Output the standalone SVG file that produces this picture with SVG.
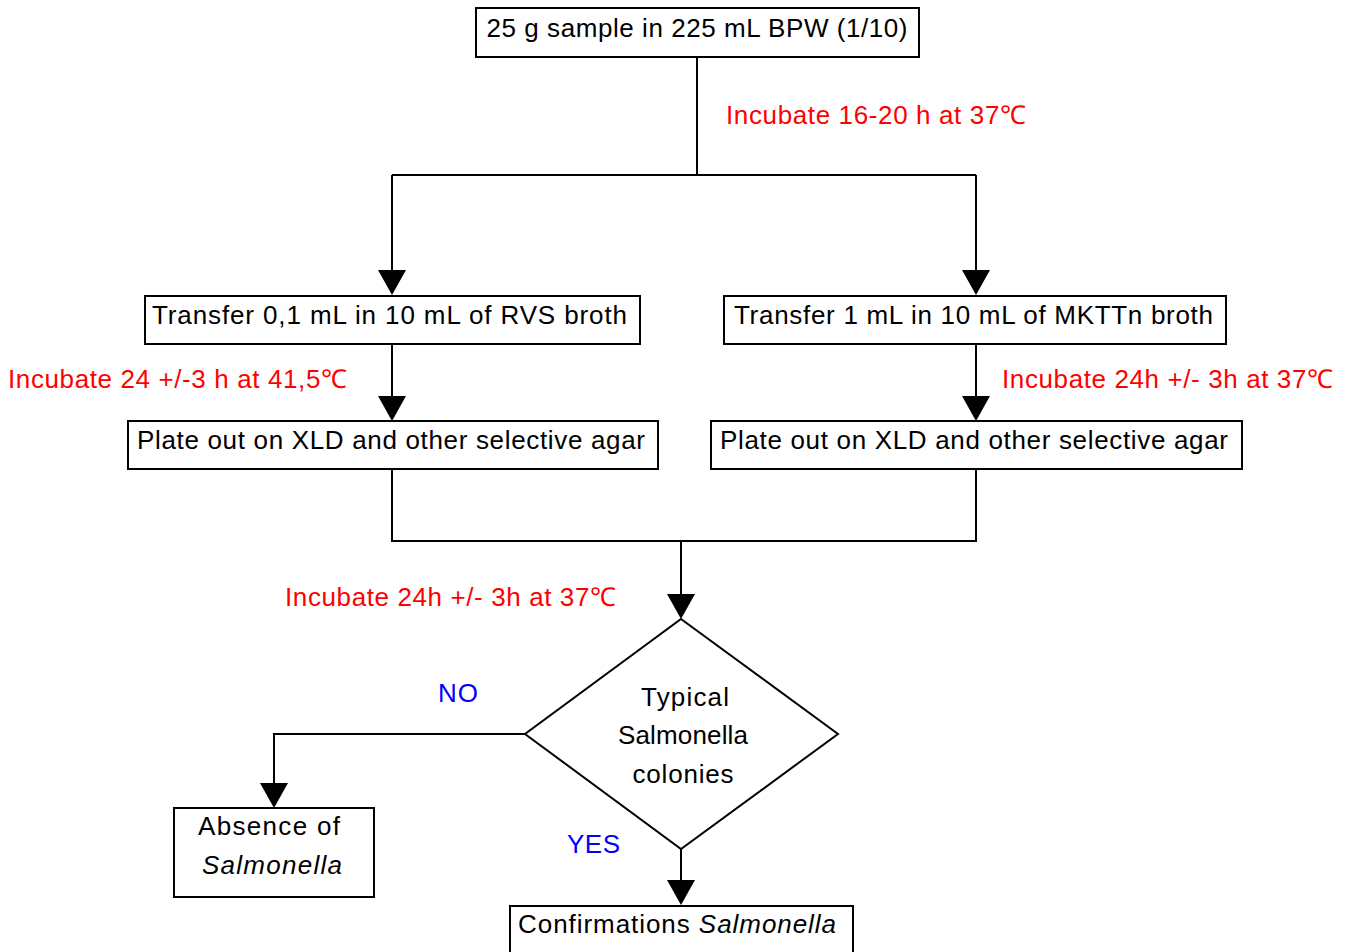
<svg xmlns="http://www.w3.org/2000/svg" width="1350" height="952" viewBox="0 0 1350 952">
<style>
.box{fill:#fff;stroke:#000;stroke-width:2}
.t{font-family:"Liberation Sans",Arial,sans-serif;font-size:26px;fill:#000}
.r{font-family:"Liberation Sans",Arial,sans-serif;font-size:26px;fill:#ff0000}
.b{font-family:"Liberation Sans",Arial,sans-serif;font-size:26px;fill:#0000ff}
.c{text-anchor:middle}
.ln{fill:none;stroke:#000;stroke-width:2}
</style>
<defs>
<marker id="ah" markerUnits="userSpaceOnUse" markerWidth="28" markerHeight="26" refX="14" refY="25" orient="auto-start-reverse" viewBox="0 0 28 26">
<path d="M0,0 L28,0 L14,25 Z" fill="#000"/>
</marker>
</defs>
<rect width="1350" height="952" fill="#fff"/>
<g id="connectors">
<path class="ln" d="M697,57 V175"/>
<path class="ln" d="M392,175 H976"/>
<path class="ln" d="M392,175 V270"/>
<path d="M378,270 L406,270 L392,295 Z"/>
<path class="ln" d="M976,175 V270"/>
<path d="M962,270 L990,270 L976,295 Z"/>
<path class="ln" d="M392,344 V396"/>
<path d="M378,396 L406,396 L392,421 Z"/>
<path class="ln" d="M976,344 V396"/>
<path d="M962,396 L990,396 L976,421 Z"/>
<path class="ln" d="M392,469 V541 H976 V469"/>
<path class="ln" d="M681,541 V594"/>
<path d="M667,594 L695,594 L681,619 Z"/>
<path class="ln" d="M525,734 H274 V783"/>
<path d="M260,783 L288,783 L274,808 Z"/>
<path class="ln" d="M681,849 V880"/>
<path d="M667,880 L695,880 L681,905 Z"/>
</g>
<g id="n-sample">
<rect class="box" x="476" y="8" width="443" height="49"/>
<text class="t c" x="697" y="37" textLength="421">25 g sample in 225 mL BPW (1/10)</text>
</g>
<g id="l-inc1"><text class="r" x="726" y="124" textLength="300">Incubate 16-20 h at 37℃</text></g>
<g id="n-rvs">
<rect class="box" x="145" y="296" width="495" height="48"/>
<text class="t" x="152" y="324" textLength="475">Transfer 0,1 mL in 10 mL of RVS broth</text>
</g>
<g id="n-mkttn">
<rect class="box" x="724" y="296" width="502" height="48"/>
<text class="t" x="734" y="324" textLength="479">Transfer 1 mL in 10 mL of MKTTn broth</text>
</g>
<g id="l-inc2"><text class="r" x="8" y="388" textLength="339">Incubate 24 +/-3 h at 41,5℃</text></g>
<g id="l-inc3"><text class="r" x="1002" y="388" textLength="331">Incubate 24h +/- 3h at 37℃</text></g>
<g id="n-plate1">
<rect class="box" x="128" y="421" width="530" height="48"/>
<text class="t" x="137" y="449" textLength="508">Plate out on XLD and other selective agar</text>
</g>
<g id="n-plate2">
<rect class="box" x="711" y="421" width="531" height="48"/>
<text class="t" x="720" y="449" textLength="508">Plate out on XLD and other selective agar</text>
</g>
<g id="l-inc4"><text class="r" x="285" y="606" textLength="331">Incubate 24h +/- 3h at 37℃</text></g>
<g id="n-decision">
<path class="box" d="M681,619 L838,734 L681,849 L525,734 Z"/>
<text class="t c" x="685" y="706" textLength="88">Typical</text>
<text class="t c" x="683" y="744" textLength="130">Salmonella</text>
<text class="t c" x="683" y="783" textLength="101">colonies</text>
</g>
<g id="l-no"><text class="b" x="438" y="702" textLength="40">NO</text></g>
<g id="l-yes"><text class="b" x="567" y="853" textLength="53">YES</text></g>
<g id="n-absence">
<rect class="box" x="174" y="808" width="200" height="89"/>
<text class="t" x="198" y="835" textLength="142">Absence of</text>
<text class="t" x="202" y="874" textLength="140" font-style="italic">Salmonella</text>
</g>
<g id="n-confirm">
<rect class="box" x="510" y="906" width="343" height="60"/>
<text class="t" x="518" y="933" textLength="318">Confirmations <tspan font-style="italic">Salmonella</tspan></text>
</g>
</svg>
